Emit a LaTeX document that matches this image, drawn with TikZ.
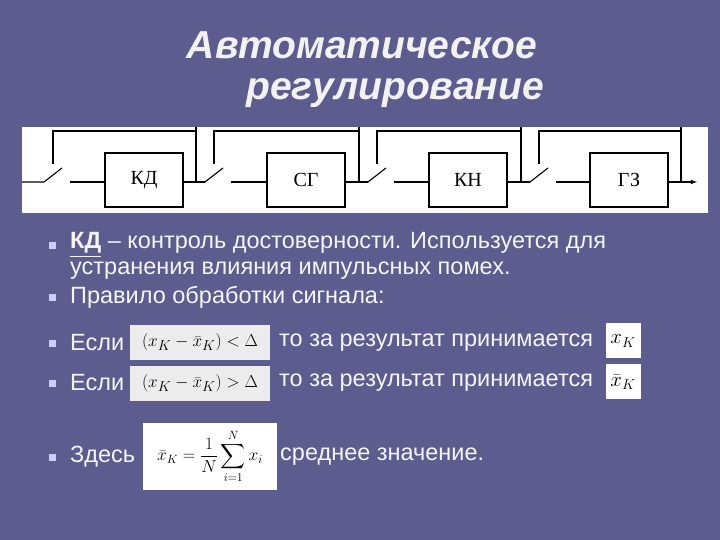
\documentclass[tikz,border=0pt]{standalone}
\usepackage{fontspec}
\setmainfont{Liberation Sans}
\newfontfamily\serifru{Liberation Serif}
\usepackage{amsmath}
\begin{document}
\begin{tikzpicture}[x=1pt,y=-1pt,
  blk/.style={draw=black,line width=1.2pt,fill=white,minimum width=78pt,minimum height=54pt,font=\serifru\fontsize{20}{20}\selectfont,inner sep=0pt},
  wire/.style={line width=1.1pt,black},
  txt/.style={anchor=west,text=white!92!gray,font=\fontsize{23.5}{26}\selectfont,inner sep=0pt},
  bul/.style={fill=white!80!blue,minimum size=7pt,inner sep=0pt},
  ttl/.style={text=white!90!gray,font=\fontsize{39}{40}\bfseries\itshape\selectfont}]
\fill[fill={rgb,255:red,92;green,92;blue,142}] (0,0) rectangle (720,540);
\useasboundingbox (0,0) rectangle (720,540);
% title
\node[ttl] (t1) at (362,45) {Автоматическое};
\node[ttl] (t2) at (395,93) {регулирование};
% scheme
\fill[white] (22,127) rectangle (708,213);
\node[blk] (kd) at (144,180) {КД};
\node[blk] (sg) at (306,180) {СГ};
\node[blk] (kn) at (468,180) {КН};
\node[blk] (gz) at (629,180) {ГЗ};
\foreach \R/\B/\J in {22/kd/196, 183/sg/359, 346/kn/521, 508/gz/681}{
  \draw[wire] (\R,182) -- (\R+22,182) -- (\R+40,168);
  \draw[wire] (\R+31,164) -- (\R+31,131) -- (\J,131);
  \draw[wire] (\R+48,182) -- (\B.west|-0,182);
}
\foreach \J in {196,359,521,681}{\draw[wire] (\J,127) -- (\J,182);}
\draw[wire] (kd.east|-0,182) -- (205,182);
\draw[wire] (sg.east|-0,182) -- (368,182);
\draw[wire] (kn.east|-0,182) -- (530,182);
\coordinate (out) at (697,182);
\draw[wire,-latex] (gz.east|-0,182) -- (out);
% bullets
\foreach \y in {245,297,343,383,457}{\node[bul] at (52,\y) {};}
\node[txt] (l1) at (70,245) {\textbf{\underline{КД}} – контроль достоверности. Используется для};
\node[txt] (l2) at (70,271) {устранения влияния импульсных помех.};
\node[txt] (l3) at (70,297) {Правило обработки сигнала:};
\node[txt] (l4) at (70,343) {Если};
\node[txt] (l4b) at (279,343) {то за результат принимается};
\node[txt] (l5) at (70,383) {Если};
\node[txt] (l5b) at (279,383) {то за результат принимается};
\node[txt] (l6) at (70,457) {Здесь};
\node[txt] (l6b) at (280,457) {среднее значение.};
% formula boxes
\fill[gray!15] (130,325) rectangle (270,360);
\node[inner sep=0pt] (f1) at (200,342.5) {\fontsize{19}{19}\selectfont$(x_K-\bar x_K)<\Delta$};
\fill[white] (606,323) rectangle (641,358);
\node[inner sep=0pt] (f2) at (623,341) {\fontsize{20}{20}\selectfont$x_K$};
\fill[gray!15] (130,366) rectangle (270,401);
\node[inner sep=0pt] (f3) at (200,383.5) {\fontsize{19}{19}\selectfont$(x_K-\bar x_K)>\Delta$};
\fill[white] (606,364) rectangle (641,399);
\node[inner sep=0pt] (f4) at (623,382) {\fontsize{20}{20}\selectfont$\bar x_K$};
\fill[white] (143,423) rectangle (277,490);
\node[inner sep=0pt] (f5) at (210,456) {\fontsize{17}{17}\selectfont$\displaystyle\bar x_K=\frac{1}{N}\sum_{i=1}^{N}x_i$};
\end{tikzpicture}
\end{document}
